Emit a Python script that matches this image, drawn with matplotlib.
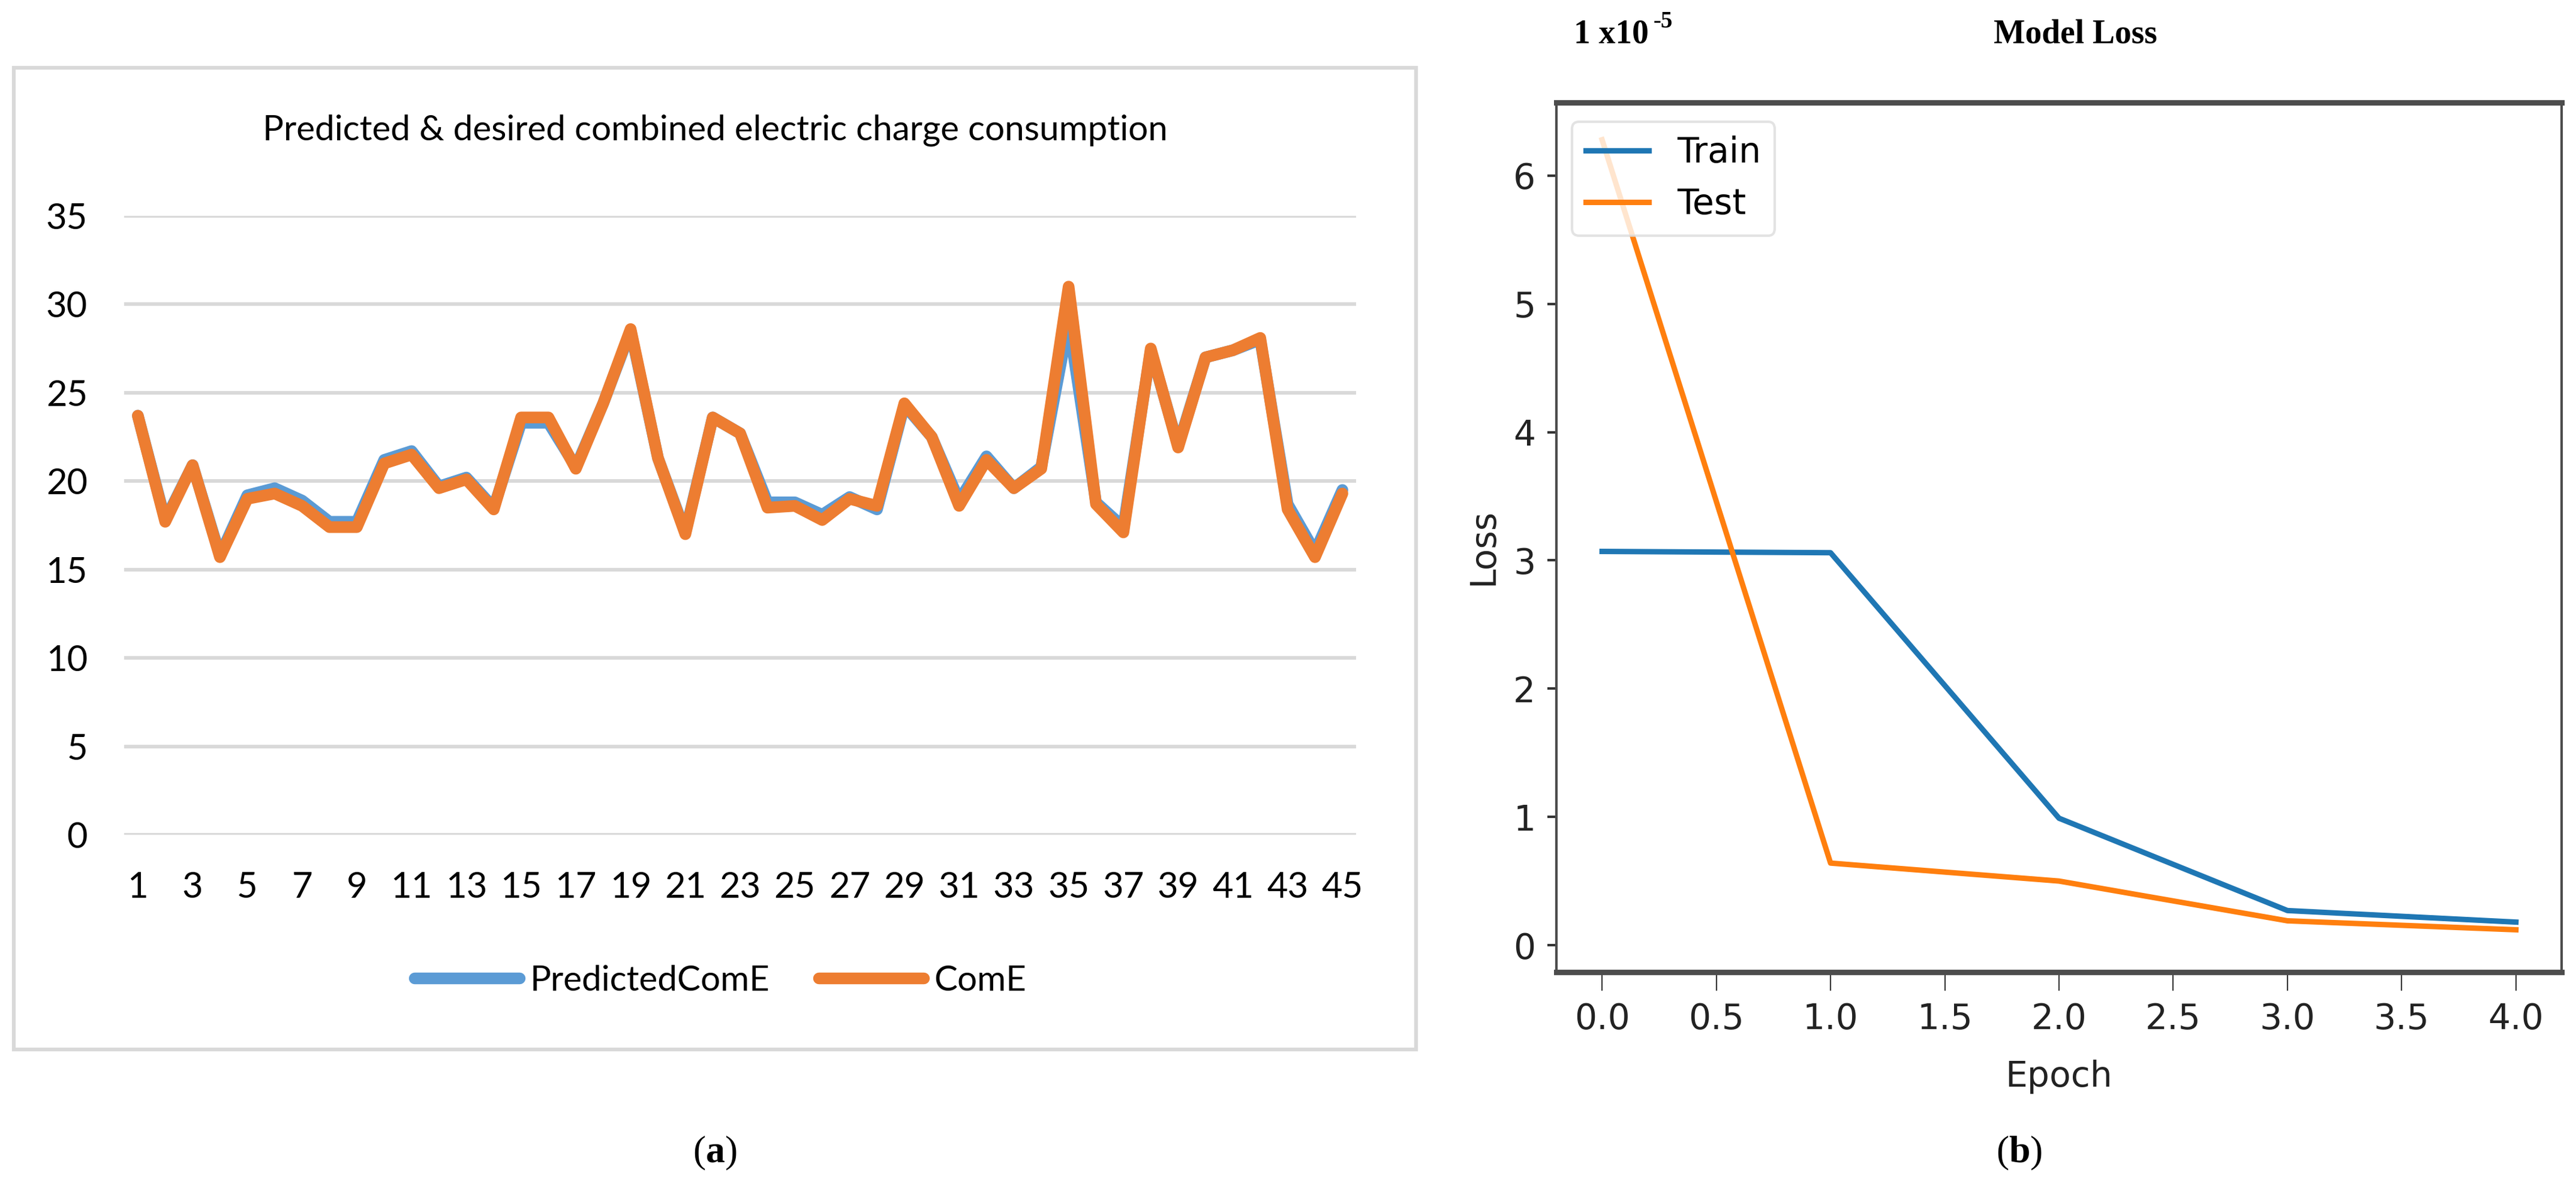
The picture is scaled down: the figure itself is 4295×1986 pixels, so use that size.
import matplotlib.pyplot as plt
from matplotlib.patches import Rectangle

W, H = 4295, 1986

# (a) predicted vs desired combined electric charge consumption
samples = list(range(1, 46))
come = [23.7, 17.7, 20.9, 15.7, 19.0, 19.3, 18.6, 17.4, 17.4, 21.0,
        21.5, 19.6, 20.1, 18.4, 23.6, 23.6, 20.7, 24.4, 28.6, 21.3,
        17.0, 23.6, 22.7, 18.5, 18.6, 17.8, 19.0, 18.6, 24.4, 22.5,
        18.6, 21.2, 19.6, 20.7, 31.0, 18.7, 17.1, 27.5, 21.9, 27.0,
        27.4, 28.1, 18.4, 15.7, 19.3]
predicted_come = [23.7, 17.8, 20.9, 15.8, 19.2, 19.6, 18.9, 17.7, 17.7, 21.2,
                  21.7, 19.7, 20.2, 18.5, 23.3, 23.3, 20.8, 24.4, 28.5, 21.3,
                  17.1, 23.6, 22.7, 18.8, 18.8, 18.1, 19.1, 18.4, 24.3, 22.5,
                  18.9, 21.4, 19.6, 20.8, 29.0, 18.8, 17.4, 27.4, 22.0, 27.0,
                  27.4, 28.0, 18.7, 16.0, 19.5]
y_ticks_a = [0, 5, 10, 15, 20, 25, 30, 35]
x_tick_labels_a = [str(i) for i in range(1, 46, 2)]

# (b) model loss
epochs = [0, 1, 2, 3, 4]
train_loss = [3.07, 3.06, 0.99, 0.27, 0.18]
test_loss = [6.28, 0.64, 0.50, 0.19, 0.12]
x_ticks_b = [0.0, 0.5, 1.0, 1.5, 2.0, 2.5, 3.0, 3.5, 4.0]
y_ticks_b = [0, 1, 2, 3, 4, 5, 6]

plt.rcParams['mathtext.fontset'] = 'custom'
plt.rcParams['mathtext.rm'] = 'Liberation Serif'
plt.rcParams['mathtext.bf'] = 'Liberation Serif:bold'

fig = plt.figure(figsize=(W / 100, H / 100), dpi=100)


def fx(px):
    return px / W


def fy(py):
    return 1 - py / H


# ---------- left panel (Excel style) ----------
fig.patches.append(Rectangle((fx(23), fy(1750)), fx(2361 - 23), (1750 - 113) / H,
                             transform=fig.transFigure, fill=False,
                             edgecolor='#D9D9D9', linewidth=4.5, zorder=0))

ax1 = fig.add_axes([fx(207), fy(1392), fx(2261 - 207), (1392 - 360) / H])
ax1.plot(samples, predicted_come, color='#5B9BD5', linewidth=14,
         solid_capstyle='round', solid_joinstyle='round', label='PredictedComE')
ax1.plot(samples, come, color='#ED7D31', linewidth=14,
         solid_capstyle='round', solid_joinstyle='round', label='ComE')
ax1.set_xlim(0.5, 45.5)
ax1.set_ylim(0, 35)
ax1.set_yticks(y_ticks_a)
ax1.set_xticks(range(1, 46, 2))
ax1.set_xticklabels(x_tick_labels_a)
for s in ax1.spines.values():
    s.set_visible(False)
ax1.grid(axis='y', color='#D9D9D9', linewidth=4.3)
ax1.set_axisbelow(True)
ax1.tick_params(length=0, labelsize=43, pad=44, labelcolor='black')
for lab in ax1.get_xticklabels() + ax1.get_yticklabels():
    lab.set_family('Lato')

fig.text(fx(1192), fy(217), 'Predicted & desired combined electric charge consumption',
         family='Lato', fontsize=42, ha='center', va='center')

ax1.legend(loc='center', bbox_to_anchor=(fx(1201), fy(1635)), bbox_transform=fig.transFigure,
           ncol=2, frameon=False, prop={'family': 'Lato', 'size': 42},
           handlelength=3.0, handletextpad=0.3, columnspacing=1.4)

fig.text(fx(1192), fy(1923), r'($\mathbf{a}$)', family='Liberation Serif',
         fontsize=46, ha='center', va='center')

# ---------- right panel (matplotlib loss curve) ----------
ax2 = fig.add_axes([fx(2595), fy(1621), fx(4271 - 2595), (1621 - 171) / H])
ax2.plot(epochs, train_loss, color='#1f77b4', linewidth=6.5, label='Train')
ax2.plot(epochs, test_loss, color='#ff7f0e', linewidth=6.5, label='Test')
ax2.set_xticks(x_ticks_b)
ax2.set_xticklabels(['%.1f' % v for v in x_ticks_b])
ax2.set_yticks(y_ticks_b)
ax2.set_xlim(-0.2, 4.2)
ax2.set_ylim(-0.21, 6.57)
for side in ['left', 'right']:
    ax2.spines[side].set_linewidth(3)
    ax2.spines[side].set_color('#4d4d4d')
for side in ['top', 'bottom']:
    ax2.spines[side].set_linewidth(6.5)
    ax2.spines[side].set_color('#4d4d4d')
ax2.tick_params(axis='x', length=22, width=1.5, pad=14, labelsize=42,
                color='#333333', labelcolor='#222222')
ax2.tick_params(axis='y', length=11, width=3, pad=14, labelsize=42,
                color='#333333', labelcolor='#222222')

fig.text(fx(2473), fy(912), 'Loss', fontsize=42, rotation=90,
         ha='center', va='center', color='#222222')
fig.text(fx(3433), fy(1795), 'Epoch', fontsize=42,
         ha='center', va='center', color='#222222')

leg = ax2.legend(loc='upper left', bbox_to_anchor=(fx(2621), fy(203)),
                 bbox_transform=fig.transFigure, borderaxespad=0,
                 prop={'size': 42}, handlelength=1.8,
                 framealpha=0.8, edgecolor='#dddddd', fancybox=True)
leg.get_frame().set_linewidth(3)

fig.text(fx(2624), fy(58), '1 x10', family='Liberation Serif', weight='bold',
         fontsize=40, ha='left', va='center')
fig.text(fx(2757), fy(36), '-5', family='Liberation Serif', weight='bold',
         fontsize=28, ha='left', va='center')
fig.text(fx(3460), fy(58), 'Model Loss', family='Liberation Serif', weight='bold',
         fontsize=40, ha='center', va='center')

fig.text(fx(3367), fy(1923), r'($\mathbf{b}$)', family='Liberation Serif',
         fontsize=46, ha='center', va='center')

fig.savefig('out.png', dpi=100, facecolor='white')
